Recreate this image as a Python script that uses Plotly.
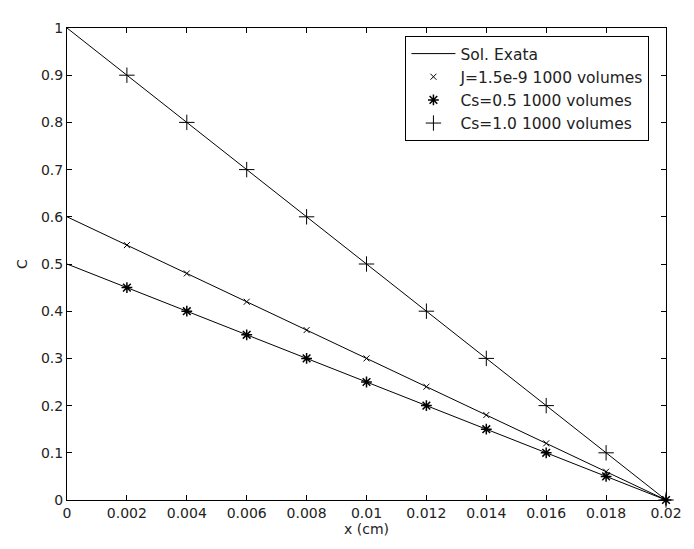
import plotly.graph_objects as go

# Exact solution lines (endpoints)
exact_x = [0.0, 0.02]
exact_y_cs1 = [1.0, 0.0]
exact_y_j = [0.6, 0.0]
exact_y_cs05 = [0.5, 0.0]

# Numerical points
x_pts = [0.002, 0.004, 0.006, 0.008, 0.010, 0.012, 0.014, 0.016, 0.018, 0.020]
y_j = [0.54, 0.48, 0.42, 0.36, 0.30, 0.24, 0.18, 0.12, 0.06, 0.0]
y_cs05 = [0.45, 0.40, 0.35, 0.30, 0.25, 0.20, 0.15, 0.10, 0.05, 0.0]
y_cs1 = [0.90, 0.80, 0.70, 0.60, 0.50, 0.40, 0.30, 0.20, 0.10, 0.0]

x_ticks = [0, 0.002, 0.004, 0.006, 0.008, 0.01, 0.012, 0.014, 0.016, 0.018, 0.02]
x_tick_text = ["0", "0.002", "0.004", "0.006", "0.008", "0.01", "0.012", "0.014", "0.016", "0.018", "0.02"]
y_ticks = [0, 0.1, 0.2, 0.3, 0.4, 0.5, 0.6, 0.7, 0.8, 0.9, 1]
y_tick_text = ["0", "0.1", "0.2", "0.3", "0.4", "0.5", "0.6", "0.7", "0.8", "0.9", "1"]

font = dict(family="DejaVu Sans, sans-serif", size=14, color="#222222")

fig = go.Figure()
line_style = dict(color="black", width=1)
for i, yy in enumerate([exact_y_cs1, exact_y_j, exact_y_cs05]):
    fig.add_trace(go.Scatter(x=exact_x, y=yy, mode="lines", line=line_style,
                             name="Sol. Exata", legendgroup="exata",
                             showlegend=(i == 0), cliponaxis=False))

fig.add_trace(go.Scatter(x=x_pts, y=y_j, mode="markers", name="J=1.5e-9 1000 volumes",
                         marker=dict(symbol="x-thin-open", size=6, color="black",
                                     line=dict(color="black", width=1)), cliponaxis=False))
fig.add_trace(go.Scatter(x=x_pts, y=y_cs05, mode="markers", name="Cs=0.5 1000 volumes",
                         marker=dict(symbol="asterisk-open", size=9, color="black",
                                     line=dict(color="black", width=1.5)), cliponaxis=False))
fig.add_trace(go.Scatter(x=x_pts, y=y_cs1, mode="markers", name="Cs=1.0 1000 volumes",
                         marker=dict(symbol="cross-thin-open", size=11, color="black",
                                     line=dict(color="black", width=1)), cliponaxis=False))

axis_common = dict(showgrid=False, zeroline=False, showline=True, linecolor="black",
                   linewidth=1, mirror="ticks", ticks="inside", ticklen=5,
                   tickcolor="black", tickfont=font)

fig.update_xaxes(range=[0, 0.02], tickvals=x_ticks, ticktext=x_tick_text,
                 title=dict(text="x (cm)", font=font, standoff=2), **axis_common)
fig.update_yaxes(range=[0, 1], tickvals=y_ticks, ticktext=y_tick_text,
                 title=dict(text="C", font=font, standoff=10), **axis_common)

fig.update_layout(
    width=686, height=541,
    margin=dict(l=59, r=18, t=12, b=49),
    paper_bgcolor="white", plot_bgcolor="white",
    font=font,
    showlegend=True,
    legend=dict(x=0.565, y=0.983, xanchor="left", yanchor="top",
                bgcolor="white", bordercolor="black", borderwidth=1,
                font=dict(family="DejaVu Sans, sans-serif", size=15.5, color="#222222"),
                tracegroupgap=0, itemwidth=44),
)

fig.write_html("out.html")
